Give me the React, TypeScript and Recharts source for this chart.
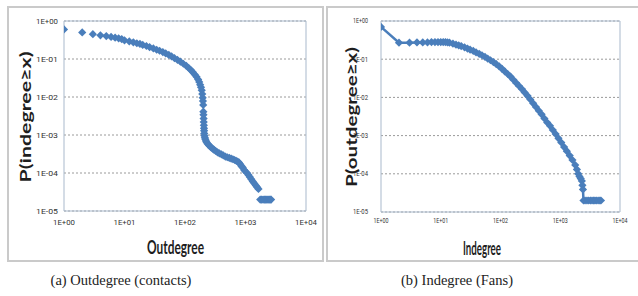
import React from 'react';
import {
  ScatterChart, Scatter, XAxis, YAxis, CartesianGrid, ReferenceArea, Label,
} from 'recharts';

const BLUE = '#4a7ebb';

// tick values and labels (log-log axes)
const xTicks = [1, 10, 100, 1000, 10000];
const xTickLabels = ['1E+00', '1E+01', '1E+02', '1E+03', '1E+04'];
const yTicks = [1, 0.1, 0.01, 0.001, 0.0001, 0.00001];
const yTickLabels = ['1E+00', '1E-01', '1E-02', '1E-03', '1E-04', '1E-05'];

// (a) outdegree (contacts)
const outX = [
  1, 2, 3, 4, 5, 6, 7, 8, 9, 10, 12, 14, 16, 18, 20, 23, 26, 30, 34, 38, 43, 48, 54, 60, 67, 75, 84, 94,
  105, 115, 125, 135, 145, 155, 165, 172, 178, 184, 189, 193, 196, 198, 200, 201, 202, 203, 204, 205, 206,
  207, 208, 210, 213, 217, 222, 228, 236, 245, 256, 270, 285, 300, 320, 345, 370, 400, 430, 465, 500, 540,
  580, 620, 660, 700, 740, 780, 820, 860, 900, 950, 1000, 1060, 1120, 1180, 1250, 1320, 1400, 1480, 1560,
  1640, 1750, 1850, 1950, 2050, 2150, 2250, 2350, 2450, 2550, 2650,
];
const outP = [
  0.6, 0.5, 0.45, 0.42, 0.4, 0.38, 0.365, 0.35, 0.335, 0.31, 0.29, 0.275, 0.26, 0.25, 0.235, 0.22, 0.205,
  0.19, 0.175, 0.165, 0.152, 0.14, 0.128, 0.117, 0.105, 0.095, 0.085, 0.075, 0.066, 0.058, 0.051, 0.045,
  0.039, 0.034, 0.029, 0.025, 0.021, 0.018, 0.015, 0.012, 0.0095, 0.0078, 0.0062, 0.0041, 0.0034, 0.0027,
  0.0022, 0.0018, 0.0015, 0.0013, 0.0011, 0.00095, 0.00085, 0.00077, 0.0007, 0.00064, 0.00059, 0.00055,
  0.00051, 0.00047, 0.00044, 0.00041, 0.00038, 0.00035, 0.00033, 0.00031, 0.00029, 0.00027, 0.00026,
  0.00025, 0.00024, 0.00023, 0.00022, 0.00021, 0.0002, 0.00019, 0.00017, 0.00015, 0.00014, 0.00012,
  0.00011, 0.0001, 0.000088, 0.000078, 0.000068, 0.00006, 0.000053, 0.000047, 0.000042, 0.000038,
  0.00002, 0.00002, 0.00002, 0.00002, 0.00002, 0.00002, 0.00002, 0.00002, 0.00002, 0.00002,
];

// (b) indegree (fans)
const inX = [
  1, 2, 3, 4, 5, 6, 7, 8, 9, 10, 11, 12, 13, 14, 16, 18, 20, 22, 25, 28, 31, 35, 39, 44, 49, 55, 61, 68,
  76, 85, 95, 106, 118, 132, 147, 164, 183, 204, 228, 254, 283, 316, 352, 392, 437, 487, 543, 605, 674,
  751, 837, 933, 1040, 1160, 1290, 1440, 1600, 1780, 1900, 2000, 2100, 2200, 2300, 2350, 2400, 2450, 2600,
  2800, 3000, 3200, 3400, 3600, 3800, 4000, 4300, 4600, 4800,
];
const inP = [
  0.7, 0.27, 0.27, 0.275, 0.275, 0.275, 0.28, 0.28, 0.28, 0.28, 0.28, 0.28, 0.275, 0.27, 0.255, 0.24,
  0.23, 0.22, 0.205, 0.19, 0.178, 0.165, 0.15, 0.138, 0.127, 0.115, 0.104, 0.094, 0.084, 0.074, 0.065,
  0.056, 0.048, 0.041, 0.035, 0.029, 0.024, 0.02, 0.0165, 0.0135, 0.011, 0.0088, 0.007, 0.0056, 0.0045,
  0.0036, 0.0028, 0.0022, 0.0018, 0.0014, 0.0011, 0.00085, 0.00066, 0.0005, 0.00039, 0.0003, 0.00023,
  0.00017, 0.00013, 0.0001, 0.000085, 0.000075, 0.000065, 0.00005, 0.000039, 0.00002, 0.00002, 0.00002,
  0.00002, 0.00002, 0.00002, 0.00002, 0.00002, 0.00002, 0.00002, 0.00002, 0.00002,
];

const outData = outX.map((x, i) => ({ x, p: outP[i] }));
const inData = inX.map((x, i) => ({ x, p: inP[i] }));

const Diamond = (props: any) => {
  const { cx, cy } = props;
  const r = 4.1;
  return (
    <polygon
      points={`${cx},${cy - r} ${cx + r},${cy} ${cx},${cy + r} ${cx - r},${cy}`}
      fill={BLUE}
    />
  );
};

const tickRenderer = (labels: string[], o: { anchor: string; dy: string; size: number; len: number }) =>
  (props: any) => {
    const { x, y, index } = props;
    return (
      <text
        x={x} y={y} dy={o.dy} textAnchor={o.anchor} fontSize={o.size}
        fontFamily="Roboto" fill="#333" textLength={o.len} lengthAdjust="spacingAndGlyphs"
      >
        {labels[index]}
      </text>
    );
  };

type PanelProps = {
  data: { x: number; p: number }[];
  xLabel: string;
  yLabel: string;
  withLine: boolean;
  yAxisWidth: number;
  xAxisHeight: number;
  right: number;
  yTickGap: number;
  xTickGap: number;
  tickSize: number;
  tickLen: number;
  xTitle: { x: number; y: number; len: number };
  yTitle: { x: number; y: number; len: number };
};

const Panel: React.FC<PanelProps> = (pp) => (
  <ScatterChart
    width={315}
    height={254}
    margin={{ top: 14, right: pp.right, bottom: 0, left: 0 }}
  >
    <CartesianGrid vertical={false} stroke="#9a9a9a" strokeDasharray="2 2" />
    <XAxis
      dataKey="x" type="number" scale="log" domain={[1, 10000]} ticks={xTicks}
      allowDataOverflow axisLine={false} tickLine={false} tickSize={0} tickMargin={pp.xTickGap}
      height={pp.xAxisHeight} interval={0}
      tick={tickRenderer(xTickLabels, { anchor: 'middle', dy: '0.35em', size: pp.tickSize, len: pp.tickLen })}
    >
      <Label
        content={() => (
          <text
            x={pp.xTitle.x} y={pp.xTitle.y} textAnchor="middle" dominantBaseline="central"
            fontFamily="Lato" fontWeight="bold" fontSize={18} fill="#1e1e1e"
            textLength={pp.xTitle.len} lengthAdjust="spacingAndGlyphs"
          >
            {pp.xLabel}
          </text>
        )}
      />
    </XAxis>
    <YAxis
      dataKey="p" type="number" scale="log" domain={[0.00001, 1]} ticks={yTicks}
      allowDataOverflow axisLine={false} tickLine={false} tickSize={0} tickMargin={pp.yTickGap}
      width={pp.yAxisWidth} interval={0}
      tick={tickRenderer(yTickLabels, { anchor: 'end', dy: '0.35em', size: pp.tickSize, len: pp.tickLen })}
    >
      <Label
        content={() => (
          <text
            x={pp.yTitle.x} y={pp.yTitle.y} textAnchor="middle" dominantBaseline="central"
            transform={`rotate(-90, ${pp.yTitle.x}, ${pp.yTitle.y})`}
            fontFamily="Lato" fontWeight="bold" fontSize={16} fill="#1e1e1e"
            textLength={pp.yTitle.len} lengthAdjust="spacingAndGlyphs"
          >
            {pp.yLabel}
          </text>
        )}
      />
    </YAxis>
    <ReferenceArea
      x1={1} x2={10000} y1={0.00001} y2={1}
      fill="none" stroke="#a9b9cc" strokeWidth={1} ifOverflow="visible"
    />
    <Scatter
      data={pp.data}
      shape={Diamond}
      line={pp.withLine ? { stroke: BLUE, strokeWidth: 2.5 } : false}
      isAnimationActive={false}
    />
  </ScatterChart>
);

const boxStyle: React.CSSProperties = {
  position: 'absolute',
  top: 6,
  width: 317,
  height: 256,
  border: '2px solid #cacaca',
  boxSizing: 'border-box',
  background: '#fff',
};

const captionStyle: React.CSSProperties = {
  position: 'absolute',
  top: 272,
  fontFamily: '"Liberation Serif", serif',
  fontSize: 14.5,
  color: '#222',
  whiteSpace: 'nowrap',
  transform: 'translateX(-50%)',
};

export default function App() {
  return (
    <div
      style={{
        position: 'absolute', left: 0, top: 0, width: 638, height: 296,
        overflow: 'hidden', background: '#fff',
      }}
    >
      <div style={{ ...boxStyle, left: 7 }} />
      <div style={{ ...boxStyle, left: 326 }} />

      <div style={{ position: 'absolute', left: 8, top: 7 }}>
        <Panel
          data={outData}
          xLabel="Outdegree"
          yLabel="P(indegree≥x)"
          withLine={false}
          yAxisWidth={56}
          xAxisHeight={50}
          right={17}
          yTickGap={6}
          xTickGap={11}
          tickSize={8}
          tickLen={22}
          xTitle={{ x: 167.5, y: 240, len: 57 }}
          yTitle={{ x: 16, y: 110, len: 131 }}
        />
      </div>

      <div style={{ position: 'absolute', left: 327, top: 7 }}>
        <Panel
          data={inData}
          xLabel="Indegree"
          yLabel="P(outdegree≥x)"
          withLine
          yAxisWidth={54}
          xAxisHeight={49}
          right={22}
          yTickGap={13}
          xTickGap={9}
          tickSize={7}
          tickLen={15}
          xTitle={{ x: 155, y: 241, len: 38 }}
          yTitle={{ x: 23, y: 110, len: 140 }}
        />
      </div>

      <div style={{ ...captionStyle, left: 121 }}>(a) Outdegree (contacts)</div>
      <div style={{ ...captionStyle, left: 457 }}>(b) Indegree (Fans)</div>
    </div>
  );
}
